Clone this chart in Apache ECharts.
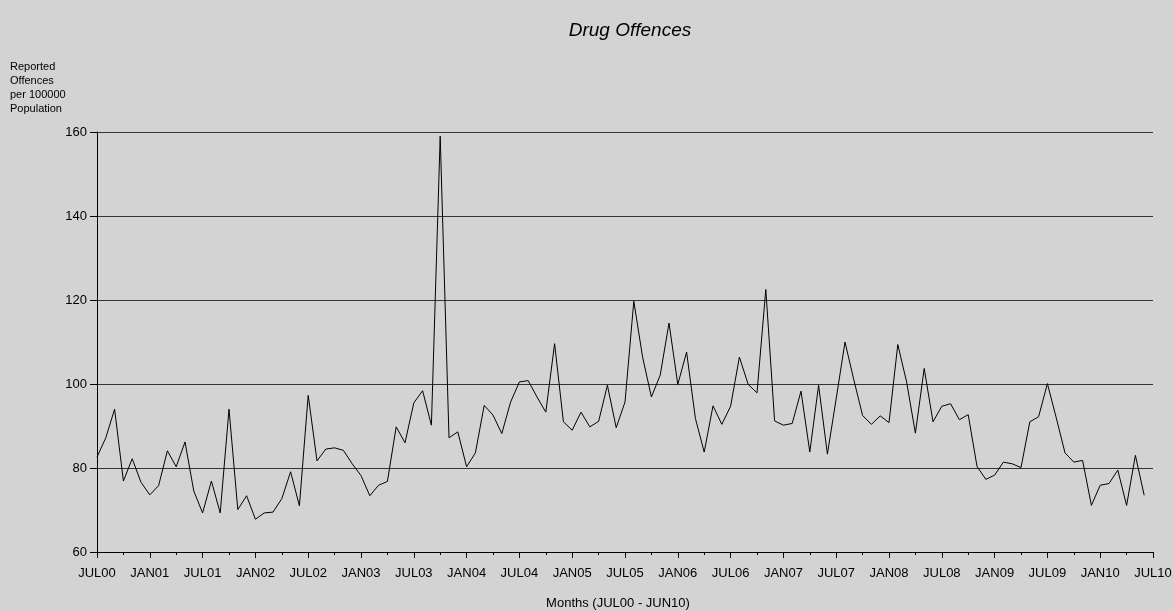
<!DOCTYPE html>
<html>
<head>
<meta charset="utf-8">
<script src="https://cdn.jsdelivr.net/npm/echarts@6/dist/echarts.min.js"></script>
<style>
html,body{margin:0;padding:0;background:#d3d3d3;}
#chart{width:1174px;height:611px;}
</style>
</head>
<body>
<div id="chart"></div>
<script>
// Tick labels every 6 months, JUL00 .. JUL10
const tickLabels = ['JUL00','JAN01','JUL01','JAN02','JUL02','JAN03','JUL03','JAN04','JUL04','JAN05','JUL05',
  'JAN06','JUL06','JAN07','JUL07','JAN08','JUL08','JAN09','JUL09','JAN10','JUL10'];
// Monthly values JUL00 .. JUN10 (120 months)
const values = [
  82.6, 87.2, 94.0, 76.9, 82.2, 76.6, 73.6, 75.8, 84.1, 80.3, 86.2, 74.5,
  69.3, 76.9, 69.3, 94.0, 70.1, 73.4, 67.8, 69.3, 69.5, 72.7, 79.1, 71.0,
  97.3, 81.7, 84.5, 84.8, 84.2, 81.0, 78.2, 73.4, 75.9, 76.8, 89.8, 86.0,
  95.5, 98.4, 90.2, 159.0, 87.2, 88.6, 80.3, 83.6, 94.9, 92.6, 88.2, 95.7,
  100.5, 100.8, 96.9, 93.3, 109.6, 91.0, 89.0, 93.3, 89.8, 91.1, 99.7, 89.6,
  95.7, 119.7, 106.4, 96.9, 102.1, 114.5, 99.9, 107.6, 91.8, 83.8, 94.8, 90.4,
  94.7, 106.4, 99.9, 97.9, 122.5, 91.2, 90.2, 90.6, 98.3, 83.8, 99.7, 83.3,
  96.5, 110.0, 101.0, 92.5, 90.4, 92.4, 90.8, 109.4, 100.5, 88.3, 103.7, 91.0,
  94.7, 95.3, 91.5, 92.7, 80.4, 77.3, 78.3, 81.4, 81.0, 80.1, 91.0, 92.2,
  100.1, 92.0, 83.6, 81.4, 81.8, 71.1, 75.9, 76.3, 79.5, 71.1, 83.0, 73.5
];
const seriesData = values.map((v, i) => [i, v]);

const chart = echarts.init(document.getElementById('chart'), null, {renderer: 'canvas'});
const font = 'Liberation Sans, Arial, sans-serif';
chart.setOption({
  backgroundColor: '#d3d3d3',
  animation: false,
  title: {
    text: 'Drug Offences',
    left: 625,
    top: 16,
    textAlign: 'center',
    textStyle: {fontFamily: font, fontSize: 19, fontStyle: 'italic', fontWeight: 'normal', color: '#000'}
  },
  graphic: [{
    type: 'text',
    left: 10,
    top: 60,
    style: {
      text: 'Reported\nOffences\nper 100000\nPopulation',
      font: '11px ' + font,
      lineHeight: 14,
      fill: '#000'
    }
  }],
  grid: {left: 97, right: 21, top: 132, bottom: 59, containLabel: false, outerBoundsMode: 'none'},
  xAxis: {
    type: 'value',
    min: 0,
    max: 120,
    interval: 6,
    name: 'Months (JUL00 - JUN10)',
    nameLocation: 'middle',
    nameGap: 45,
    nameTextStyle: {fontFamily: font, fontSize: 13, color: '#000', padding: [0, 14, 0, 0]},
    axisLine: {show: true, lineStyle: {color: '#000', width: 1}},
    axisTick: {show: true, length: 6, lineStyle: {color: '#000'}},
    minorTick: {show: true, splitNumber: 2, length: 3, lineStyle: {color: '#000'}},
    splitLine: {show: false},
    axisLabel: {
      fontFamily: font, fontSize: 13, color: '#000', margin: 15,
      formatter: v => tickLabels[Math.round(v / 6)] || ''
    }
  },
  yAxis: {
    type: 'value',
    min: 60,
    max: 160,
    interval: 20,
    axisLine: {show: true, lineStyle: {color: '#000', width: 1}},
    axisTick: {show: true, length: 7, lineStyle: {color: '#000'}},
    splitLine: {show: true, lineStyle: {color: '#333', width: 1}},
    axisLabel: {fontFamily: font, fontSize: 13, color: '#000', margin: 10}
  },
  series: [{
    type: 'line',
    data: seriesData,
    showSymbol: false,
    symbol: 'none',
    lineStyle: {color: '#000', width: 1},
    z: 3
  }]
});
</script>
</body>
</html>
